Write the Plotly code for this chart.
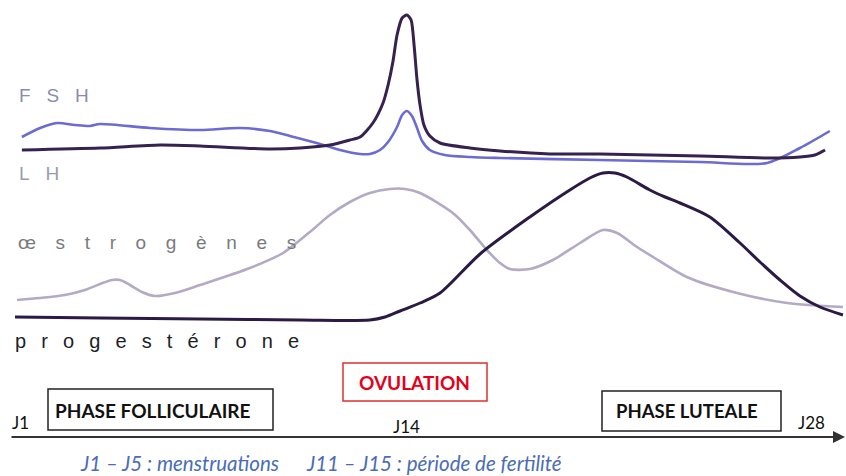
import plotly.graph_objects as go

W, H = 846, 476
NB = "\u00a0"
TS = "\u2009"

# ---- data (day of cycle, relative level in arbitrary units) ----
fsh_days = [1.13, 1.74, 2.31, 2.91, 3.41, 3.75, 5.42, 7.10, 8.44, 9.44, 10.11, 11.12, 11.79, 12.46,
            12.79, 13.13, 13.40, 13.70, 13.87, 14.03, 14.20, 14.37, 14.54, 14.80, 15.30, 16.14,
            17.15, 20.50, 23.85, 26.10, 27.20, 28.20]
fsh_vals = [339, 348, 353, 351, 350, 352, 348, 346, 348, 345, 340, 332, 326, 322,
            322, 326, 334, 349, 361, 365, 360, 348, 335, 326, 321, 319,
            318, 316, 314, 313, 328, 345]

lh_days = [1.13, 3.75, 5.76, 7.10, 9.44, 10.45, 11.45, 12.12, 12.46, 12.89, 13.23, 13.40, 13.56,
           13.70, 13.87, 14.03, 14.17, 14.27, 14.37, 14.47, 14.60, 14.80, 15.14, 16.14, 17.15,
           18.82, 20.50, 23.85, 26.20, 27.20, 27.70, 28.04]
lh_vals = [326, 328, 331, 330, 327, 328, 331, 336, 339, 353, 373, 391, 414,
           441, 458, 461, 456, 431, 396, 371, 351, 340, 333, 328, 325,
           322, 322, 320, 318, 319, 321, 326]

oes_days = [0.97, 1.74, 2.57, 3.24, 3.75, 4.15, 4.42, 4.75, 5.15, 5.59, 6.26, 7.10, 8.77, 9.88,
            10.78, 11.45, 12.12, 12.79, 13.46, 13.97, 14.47, 15.57, 16.14, 16.71, 17.15, 17.48,
            18.15, 18.92, 19.83, 20.60, 21.07, 21.74, 22.28, 23.41, 25.09, 26.77, 28.64]
oes_vals = [176, 178, 181, 186, 192, 196, 196, 191, 184, 180, 183, 191, 208, 223,
            244, 261, 274, 283, 287, 287, 283, 263, 246, 226, 213, 207,
            207, 216, 233, 246, 243, 229, 219, 199, 183, 173, 169]

pro_days = [0.90, 3.75, 7.10, 10.45, 12.79, 13.30, 13.80, 14.47, 15.14, 16.48, 18.15, 19.49,
            20.16, 20.60, 21.00, 21.40, 22.17, 22.68, 23.18, 24.18, 25.19, 25.86, 26.53, 27.20,
            27.87, 28.64]
pro_vals = [159, 158, 157, 156, 156, 159, 165, 173, 183, 222, 259, 286,
            298, 303, 303, 299, 286, 279, 273, 259, 233, 214, 196, 180,
            169, 161]

hormone_labels = ["F S H", "L H", "œ s t r o g è n e s", "p r o g e s t é r o n e"]
day_labels = ["J1", "J14", "J28"]
phase_labels = ["PHASE FOLLICULAIRE", "OVULATION", "PHASE LUTEALE"]
notes = ["J1 – J5 : menstruations", "J11 – J15 : période de fertilité"]

# ---- helpers for layout positions (pixels -> paper) ----
def px(x):
    return x / W

def py(y):
    return 1 - y / H

fig = go.Figure()

fig.add_trace(go.Scatter(x=oes_days, y=oes_vals, mode="lines",
                         line=dict(color="#b3aac6", width=2.6, shape="spline", smoothing=0.8),
                         hoverinfo="skip"))
fig.add_trace(go.Scatter(x=pro_days, y=pro_vals, mode="lines",
                         line=dict(color="#2b1a45", width=3, shape="spline", smoothing=0.8),
                         hoverinfo="skip"))
fig.add_trace(go.Scatter(x=fsh_days, y=fsh_vals, mode="lines",
                         line=dict(color="#6b6bd3", width=2.6, shape="spline", smoothing=0.8),
                         hoverinfo="skip"))
fig.add_trace(go.Scatter(x=lh_days, y=lh_vals, mode="lines",
                         line=dict(color="#36224f", width=3, shape="spline", smoothing=0.7),
                         hoverinfo="skip"))

ann = []

def spaced(s, gap):
    return s.replace(" ", gap)

# hormone labels
ann.append(dict(text=spaced(hormone_labels[0], NB * 3), x=px(17), y=py(96), xanchor="left", yanchor="middle",
                font=dict(family="Liberation Sans", size=19, color="#8b8bb0")))
ann.append(dict(text=spaced(hormone_labels[1], NB * 3), x=px(17), y=py(173), xanchor="left", yanchor="middle",
                font=dict(family="Liberation Sans", size=19, color="#9a9aae")))
ann.append(dict(text=spaced(hormone_labels[2], NB * 3 + TS), x=px(16), y=py(243), xanchor="left", yanchor="middle",
                font=dict(family="Liberation Sans", size=19, color="#7a7a7e")))
ann.append(dict(text=spaced(hormone_labels[3], NB * 2 + TS), x=px(13), y=py(341), xanchor="left", yanchor="middle",
                font=dict(family="Liberation Sans", size=20, color="#1e1e28")))

# day labels
ann.append(dict(text=day_labels[0], x=px(20), y=py(422), xanchor="center", yanchor="middle",
                font=dict(family="Lato", size=17, color="#111")))
ann.append(dict(text=day_labels[1], x=px(406), y=py(426), xanchor="center", yanchor="middle",
                font=dict(family="Lato", size=17, color="#111")))
ann.append(dict(text=day_labels[2], x=px(811), y=py(422), xanchor="center", yanchor="middle",
                font=dict(family="Lato", size=17, color="#111")))

# phase labels
ann.append(dict(text="<b>%s</b>" % phase_labels[0], x=px(153), y=py(410), xanchor="center", yanchor="middle",
                font=dict(family="Lato", size=19, color="#111")))
ann.append(dict(text="<b>%s</b>" % phase_labels[1], x=px(414), y=py(382), xanchor="center", yanchor="middle",
                font=dict(family="Lato", size=19, color="#e4001b")))
ann.append(dict(text="<b>%s</b>" % phase_labels[2], x=px(687), y=py(411), xanchor="center", yanchor="middle",
                font=dict(family="Lato", size=18.5, color="#111")))

# notes
ann.append(dict(text="<i>%s</i>" % notes[0], x=px(179), y=py(463), xanchor="center", yanchor="middle",
                font=dict(family="Lato", size=20.5, color="#4a6db5")))
ann.append(dict(text="<i>%s</i>" % notes[1], x=px(434), y=py(463), xanchor="center", yanchor="middle",
                font=dict(family="Lato", size=20.5, color="#4a6db5")))

# axis arrow
ann.append(dict(text="", x=px(845), y=py(437), ax=-835, ay=0, showarrow=True,
                arrowhead=2, arrowsize=1.2, arrowwidth=2, arrowcolor="#333333"))

for a in ann:
    a.setdefault("xref", "paper")
    a.setdefault("yref", "paper")
    a.setdefault("showarrow", False)

shapes = [
    dict(type="rect", xref="paper", yref="paper", x0=px(48), x1=px(273), y0=py(430), y1=py(389),
         line=dict(color="#222", width=1.5)),
    dict(type="rect", xref="paper", yref="paper", x0=px(343), x1=px(487), y0=py(401), y1=py(363),
         line=dict(color="#e03030", width=1.5)),
    dict(type="rect", xref="paper", yref="paper", x0=px(602), x1=px(781), y0=py(431), y1=py(391),
         line=dict(color="#222", width=1.5)),
]

px_per_day = (406 - 18) / 13.0
x0 = 1 - 18 / px_per_day
x1 = x0 + W / px_per_day

fig.update_layout(
    width=W, height=H,
    margin=dict(l=0, r=0, t=0, b=0),
    paper_bgcolor="white", plot_bgcolor="white",
    showlegend=False,
    xaxis=dict(range=[x0, x1], visible=False, fixedrange=True),
    yaxis=dict(range=[0, H], visible=False, fixedrange=True),
    annotations=ann,
    shapes=shapes,
)

fig.write_html("out.html", config={"displayModeBar": False},
               post_script="document.body.style.margin='0';document.body.style.overflow='hidden';")
